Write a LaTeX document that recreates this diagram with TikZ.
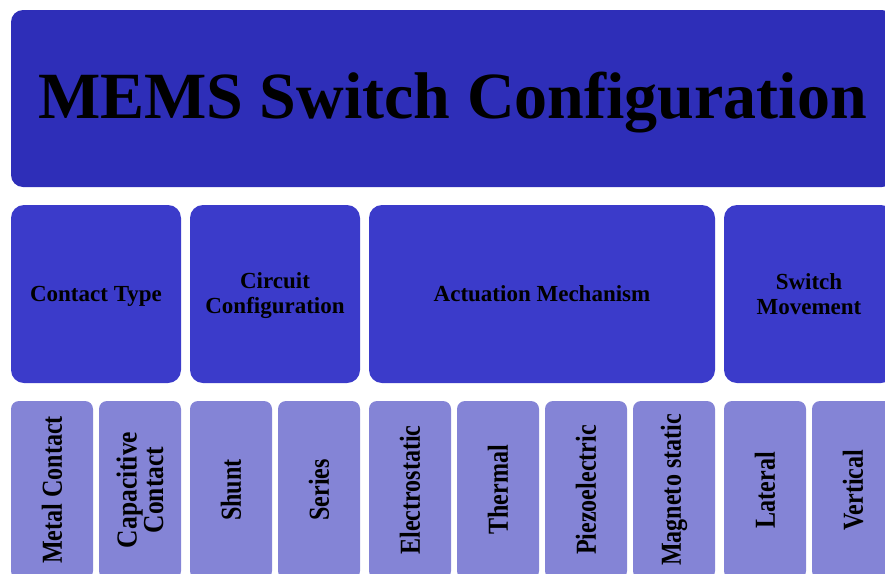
\documentclass[tikz,border=0pt]{standalone}
\usepackage{fontspec}
\setmainfont{Liberation Serif}
\definecolor{titleblue}{RGB}{46,46,184}
\definecolor{groupblue}{RGB}{59,59,202}
\definecolor{leafblue}{RGB}{132,132,214}
% narrow the upright labels of the sub-type boxes
\newcommand{\narrow}[2][0.83]{\scalebox{#1}[1]{#2}}
\tikzset{
  titlebox/.style={fill=titleblue, rounded corners=12pt, inner sep=0pt,
    minimum width=883pt, minimum height=177pt,
    text height=50pt, text depth=11pt,
    font=\fontsize{66}{70}\selectfont\bfseries},
  groupbox/.style={fill=groupblue, rounded corners=13pt, inner sep=0pt,
    minimum height=178pt, align=center,
    font=\fontsize{23}{25}\selectfont\bfseries},
  oneline/.style={text height=17pt, text depth=3pt},
  twolines/.style={font=\fontsize{23}{25}\selectfont\bfseries, align=center,
    inner sep=0pt},
  leafbox/.style={fill=leafblue, rounded corners=8pt, inner sep=0pt,
    rotate=90, minimum width=178pt, minimum height=82pt, align=center,
    font=\fontsize{29}{23}\selectfont\bfseries},
}
\begin{document}
\begin{tikzpicture}[x=1pt,y=-1pt]
\path[clip] (0,0) rectangle (885,573);

% heading
\node[titlebox] (title) at (452.5,98.5) {MEMS Switch Configuration};

% categories
\node[groupbox, oneline, minimum width=170pt] (contact)  at (96,294)  {Contact Type};
\node[groupbox, minimum width=170pt] (circuit)  at (275,294) {};
\node[groupbox, oneline, minimum width=346pt] (actuate)  at (542,294) {Actuation Mechanism};
\node[groupbox, minimum width=170pt] (movement) at (809,294) {};
\node[twolines] (circuittext) at ([yshift=-2pt]circuit.center) {Circuit\\Configuration};
\node[twolines] (movementtext) at (movement.center) {Switch\\Movement};

% sub-types
\node[leafbox] (metal)   at (52,490)  {\narrow{Metal Contact}};
\node[leafbox] (capac)   at (140,490) {\narrow[0.88]{Capacitive}\\\narrow[0.88]{Contact}};
\node[leafbox] (shunt)   at (231,490) {\narrow{Shunt}};
\node[leafbox] (series)  at (319,490) {\narrow{Series}};
\node[leafbox] (estatic) at (410,490) {\narrow{Electrostatic}};
\node[leafbox] (thermal) at (498,490) {\narrow{Thermal}};
\node[leafbox] (piezo)   at (586,490) {\narrow{Piezoelectric}};
\node[leafbox] (magneto) at (674,490) {\narrow{Magneto static}};
\node[leafbox] (lateral) at (765,490) {\narrow{Lateral}};
\node[leafbox] (vertic)  at (853,490) {\narrow{Vertical}};
\end{tikzpicture}
\end{document}
